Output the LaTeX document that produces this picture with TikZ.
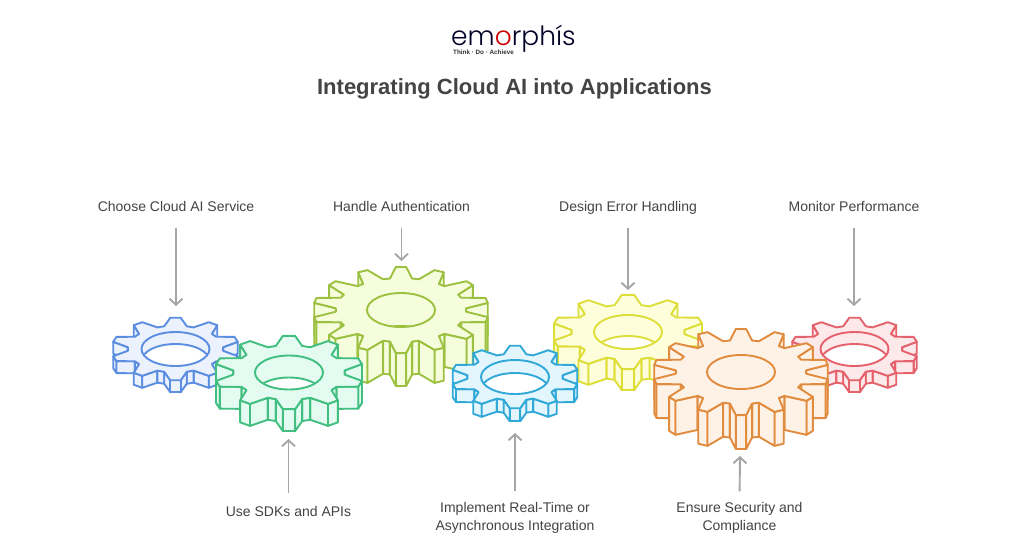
\documentclass[tikz,border=0pt]{standalone}
\usepackage{fontspec}
\setmainfont{Liberation Sans}
\newfontfamily\logofont{Poppins Light}
\usetikzlibrary{arrows.meta}
\definecolor{txt}{HTML}{444444}
\definecolor{arr}{HTML}{A6A6A6}
\definecolor{sBlue}{HTML}{5B8DE0}\definecolor{fBlue}{HTML}{EBF1FD}
\definecolor{sGreen}{HTML}{41BE80}\definecolor{fGreen}{HTML}{E3FBF0}
\definecolor{sLime}{HTML}{9CC040}\definecolor{fLime}{HTML}{F6FDDD}
\definecolor{sCyan}{HTML}{30A8D8}\definecolor{fCyan}{HTML}{E3F6FD}
\definecolor{sYellow}{HTML}{DEDE3A}\definecolor{fYellow}{HTML}{FEFEDA}
\definecolor{sOrange}{HTML}{E08B3E}\definecolor{fOrange}{HTML}{FEF1E6}
\definecolor{sRed}{HTML}{E5616B}\definecolor{fRed}{HTML}{FDE8EA}
\tikzset{
  lab/.style={font=\fontsize{14}{17.6}\selectfont,text=txt,align=center,inner sep=0pt},
  oneline/.style={lab,text height=10pt,text depth=3pt},
  pointer/.style={draw=arr,line width=1.9pt,-{Straight Barb[length=6pt,width=13pt]}},
  gearline/.style={line width=1.9pt,line join=round},
}
\newcommand{\gearpt}[1]{%
  \pgfmathtruncatemacro{\gj}{mod(#1+8*\gN,4*\gN)}%
  \pgfmathtruncatemacro{\gt}{floor(\gj/4)}%
  \pgfmathtruncatemacro{\gm}{mod(\gj,4)}%
  \pgfmathsetmacro{\goff}{\gm==0?-\gb:(\gm==1?-\ga:(\gm==2?\ga:\gb))}%
  \pgfmathsetmacro{\grad}{(\gm==0||\gm==3)?\gr:\gR}%
  \pgfmathsetmacro{\gang}{90-\gt*360/\gN-\goff}%
  \pgfmathsetmacro{\px}{\gcx+\grad*cos(\gang)}%
  \pgfmathsetmacro{\py}{\gcy-\gsc*\grad*sin(\gang)}%
}
\newcommand{\gearquad}[2]{%
  \gearpt{#1}\let\xa\px\let\ya\py
  \gearpt{#2}\let\xb\px\let\yb\py
  \pgfmathparse{\xb<\xa?1:0}%
  \ifnum\pgfmathresult=1
    \pgfmathsetmacro{\yc}{\yb+\gh}\pgfmathsetmacro{\yd}{\ya+\gh}%
    \draw[gearline,draw=\gs,fill=\gf] (\xa,\ya)--(\xb,\yb)--(\xb,\yc)--(\xa,\yd)--cycle;
  \fi
}
\newcommand{\gear}[7]{%
  \def\gcx{#1}\def\gcy{#2}\def\gR{#3}\def\gh{#4}\def\gN{#5}\def\gs{#6}\def\gf{#7}%
  \def\gsc{0.49}%
  \pgfmathsetmacro{\gr}{#3*0.73+1}%
  \pgfmathsetmacro{\ga}{0.13*360/#5}%
  \pgfmathsetmacro{\gb}{0.38*360/#5}%
  \pgfmathtruncatemacro{\gtop}{2*#5+1}%
  \foreach \k in {2,...,\gtop}{%
    \pgfmathtruncatemacro{\kb}{\k+1}%
    \pgfmathtruncatemacro{\ma}{2-\k}%
    \pgfmathtruncatemacro{\mb}{3-\k}%
    \gearquad{\k}{\kb}%
    \gearquad{\ma}{\mb}%
  }%
  \gdef\gpath{}%
  \pgfmathtruncatemacro{\glast}{4*#5-1}%
  \foreach \j in {0,...,\glast}{%
    \gearpt{\j}%
    \xdef\gpath{\gpath (\px,\py) -- }%
  }%
  \edef\gtemp{\noexpand\draw[gearline,draw=\gs,fill=\gf] \gpath cycle;}\gtemp
  \pgfmathsetmacro{\gsy}{#2+#4}%
  \begin{scope}
    \clip (#1,#2) ellipse [x radius=34pt,y radius=17pt];
    \draw[gearline,draw=\gs,fill=white] (#1,\gsy) ellipse [x radius=34pt,y radius=17pt];
  \end{scope}
  \draw[gearline,draw=\gs] (#1,#2) ellipse [x radius=34pt,y radius=17pt];
}
\begin{document}
\begin{tikzpicture}[x=1pt,y=-1pt]
\useasboundingbox[fill=white] (0,0) rectangle (1024,546);
% logo
\node[inner sep=0pt,anchor=base west,text=black!85!blue,text depth=0pt] (logo) at (451,45.5)
  {\logofont\fontsize{26.5}{27}\selectfont em{\color{red!80!black}o}rphís};
\node[inner sep=0pt,anchor=base west,text=black!80] (tag) at (453,54)
  {\fontsize{6.3}{6.5}\selectfont\bfseries Think · Do · Achieve};
% title
\node[inner sep=0pt,text=txt] (title) at (514.5,89)
  {\fontsize{22}{26}\selectfont\bfseries Integrating Cloud AI into Applications};
% gears
\gear{401}{310}{88}{33}{14}{sLime}{fLime}
\gear{175.5}{349}{64}{12}{10}{sBlue}{fBlue}
\gear{289}{372.5}{75}{22}{10}{sGreen}{fGreen}
\gear{628}{332}{76}{21}{10}{sYellow}{fYellow}
\gear{515}{377}{64}{13}{10}{sCyan}{fCyan}
\gear{854.5}{349}{64}{12}{10}{sRed}{fRed}
\gear{741}{372}{88}{34}{14}{sOrange}{fOrange}
% labels
\node[oneline] (l1) at (176,208) {Choose Cloud AI Service};
\node[oneline] (l2) at (401.5,208) {Handle Authentication};
\node[oneline] (l3) at (628,208) {Design Error Handling};
\node[oneline] (l4) at (854,208) {Monitor Performance};
\node[oneline] (l5) at (288.5,513) {Use SDKs and APIs};
\node[lab] (l6) at (515,518) {Implement Real-Time or\\Asynchronous Integration};
\node[lab] (l7) at (739.5,518) {Ensure Security and\\Compliance};
% arrow targets
\coordinate (t1) at (176,306);
\coordinate (t2) at (401.5,261);
\coordinate (t3) at (628,290);
\coordinate (t4) at (854,306);
\coordinate (t5) at (288.5,439);
\coordinate (t6) at (515,433);
\coordinate (t7) at (740,456);
\draw[pointer,shorten <=13pt] (l1.south) -- (t1);
\draw[pointer,shorten <=13pt] (l2.south) -- (t2);
\draw[pointer,shorten <=13pt] (l3.south) -- (t3);
\draw[pointer,shorten <=13pt] (l4.south) -- (t4);
\draw[pointer,shorten <=13pt] (l5.north) -- (t5);
\draw[pointer,shorten <=11pt] (l6.north) -- (t6);
\draw[pointer,shorten <=11pt] (l7.north) -- (t7);
\end{tikzpicture}
\end{document}
